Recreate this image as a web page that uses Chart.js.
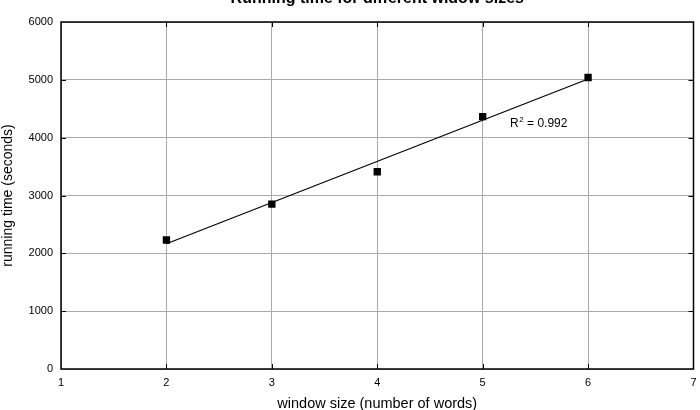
<!DOCTYPE html>
<html>
<head>
<meta charset="utf-8">
<script src="https://cdn.jsdelivr.net/npm/chart.js@4"></script>
<style>
  html, body { margin: 0; padding: 0; background: #fff; }
  #wrap { position: relative; width: 700px; height: 410px; }
</style>
</head>
<body>
<div id="wrap"><canvas id="runChart"></canvas></div>
<script>
// window size vs running time
const windowSizes = [2, 3, 4, 5, 6];
const runningTimes = [2230, 2850, 3410, 4365, 5040];
// fitted line endpoints
const fitX = [2, 6];
const fitY = [2165, 5015];
const xTicks = [1, 2, 3, 4, 5, 6, 7];
const yTicks = [0, 1000, 2000, 3000, 4000, 5000, 6000];

const FONT = '"Liberation Sans", Arial, sans-serif';
const GRID = '#a9a9a9';

// box, inner tick marks, title and R^2 note
const framePlugin = {
  id: 'frame',
  afterDraw(chart) {
    const { ctx, chartArea: a, scales } = chart;
    ctx.save();
    ctx.strokeStyle = '#000';
    ctx.lineWidth = 1;
    ctx.beginPath();
    xTicks.slice(1, -1).forEach(v => {
      const px = Math.round(scales.x.getPixelForValue(v)) + 0.5;
      ctx.moveTo(px, a.bottom); ctx.lineTo(px, a.bottom - 5);
      ctx.moveTo(px, a.top); ctx.lineTo(px, a.top + 5);
    });
    yTicks.slice(1, -1).forEach(v => {
      const py = Math.round(scales.y.getPixelForValue(v)) + 0.5;
      ctx.moveTo(a.left, py); ctx.lineTo(a.left + 5, py);
      ctx.moveTo(a.right, py); ctx.lineTo(a.right - 5, py);
    });
    ctx.stroke();
    ctx.lineWidth = 1.5;
    ctx.strokeRect(a.left, a.top, a.right - a.left, a.bottom - a.top);

    // title (runs off the top edge in the reference)
    ctx.fillStyle = '#000';
    ctx.font = 'bold 16px ' + FONT;
    ctx.textAlign = 'center';
    ctx.textBaseline = 'alphabetic';
    ctx.fillText('Running time for different widow sizes', (a.left + a.right) / 2, 3);

    // R^2 label
    const lx = scales.x.getPixelForValue(5.26);
    const ly = scales.y.getPixelForValue(4180);
    ctx.font = '12px ' + FONT;
    ctx.textAlign = 'left';
    ctx.fillText('R', lx, ly);
    const rw = ctx.measureText('R').width;
    ctx.font = '8px ' + FONT;
    ctx.fillText('2', lx + rw + 0.5, ly - 5);
    ctx.font = '12px ' + FONT;
    ctx.fillText(' = 0.992', lx + rw + 5, ly);
    ctx.restore();
  }
};

new Chart(document.getElementById('runChart').getContext('2d'), {
  type: 'scatter',
  data: {
    datasets: [{
      label: 'fit',
      data: fitX.map((x, i) => ({ x, y: fitY[i] })),
      showLine: true,
      borderColor: '#000',
      borderWidth: 1.2,
      pointRadius: 0,
      order: 2
    }, {
      label: 'running time',
      data: windowSizes.map((x, i) => ({ x, y: runningTimes[i] })),
      pointStyle: 'rect',
      pointRadius: 5.2,
      backgroundColor: '#000',
      borderColor: '#000',
      borderWidth: 0,
      order: 1
    }]
  },
  options: {
    responsive: true,
    maintainAspectRatio: false,
    animation: false,
    layout: { padding: { top: 22, right: 6.5, left: 0, bottom: 0 } },
    plugins: { legend: { display: false }, tooltip: { enabled: false } },
    scales: {
      x: {
        type: 'linear',
        min: 1, max: 7,
        afterBuildTicks: s => { s.ticks = xTicks.map(v => ({ value: v })); },
        afterFit: s => { s.height = 41; s.paddingLeft = 0; s.paddingRight = 0; },
        grid: { color: GRID, drawTicks: false },
        border: { display: false },
        ticks: { color: '#000', padding: 7, font: { family: FONT, size: 11 }, maxRotation: 0,
                 callback: v => String(v) },
        title: { display: true, text: 'window size (number of words)', color: '#000',
                 font: { family: FONT, size: 14.5 }, padding: { top: 0, bottom: -3 } }
      },
      y: {
        min: 0, max: 6000,
        afterBuildTicks: s => { s.ticks = yTicks.map(v => ({ value: v })); },
        afterFit: s => { s.width = 61; s.paddingTop = 0; s.paddingBottom = 0; },
        grid: { color: GRID, drawTicks: false },
        border: { display: false },
        ticks: { color: '#000', padding: 8, font: { family: FONT, size: 11 },
                 callback: v => String(v) },
        title: { display: true, text: 'running time (seconds)', color: '#000',
                 font: { family: FONT, size: 14 }, padding: { top: 0, bottom: 0 } }
      }
    }
  },
  plugins: [framePlugin]
});
</script>
</body>
</html>
